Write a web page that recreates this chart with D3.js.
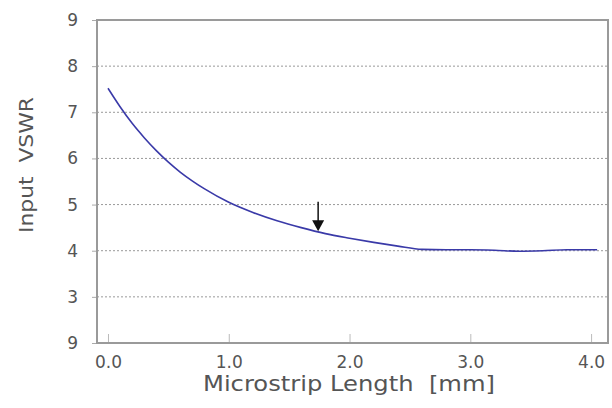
<!DOCTYPE html>
<html>
<head>
<meta charset="UTF-8">
<title>Input VSWR vs Microstrip Length</title>
<style>
    body { margin: 0; background: #fff; }
    text { font-family: "DejaVu Sans", sans-serif; }
    .tick text { fill: #555; font-size: 17px; font-family: "DejaVu Sans", sans-serif; }
    .grid line { stroke: #999; stroke-width: 1px; stroke-dasharray: 2,2; }
</style>
</head>
<body>
<svg id="chart" width="612" height="408"></svg>
<script src="https://cdn.jsdelivr.net/npm/d3@7/dist/d3.min.js"></script>
<script>
    // curve
    var lengths = [0.0, 0.1, 0.2, 0.3, 0.4, 0.5, 0.6, 0.7, 0.8, 1.0, 1.2, 1.4, 1.6, 1.8,
                   2.0, 2.2, 2.4, 2.6, 2.8, 3.0, 3.2, 3.4, 3.6, 3.8, 4.05];
    var vswr = [7.52, 7.12, 6.76, 6.45, 6.17, 5.92, 5.70, 5.51, 5.34, 5.05, 4.83, 4.65, 4.50, 4.37,
                4.27, 4.18, 4.10, 4.03, 4.02, 4.02, 4.01, 3.99, 4.00, 4.02, 4.02];

    var xTicks = [0, 1, 2, 3, 4];
    var yTicks = [2, 3, 4, 5, 6, 7, 8, 9];
    var yTickLabels = ["9", "3", "4", "5", "6", "7", "8", "9"]; // bottom label prints as "9" in the original
    var arrowAt = 1.74, arrowFrom = 5.06, arrowTo = 4.42;

    var plotLeft = 97, plotRight = 608, plotTop = 20, plotBottom = 343;

    var svg = d3.select("#chart");

    var x = d3.scaleLinear().domain([-0.091, 4.14]).range([plotLeft, plotRight]);
    var y = d3.scaleLinear().domain([2, 9]).range([plotBottom, plotTop]);

    // dotted grid
    svg.append("g")
        .attr("class", "grid")
        .selectAll("line")
        .data(yTicks.filter(function (d) { return d > 2 && d < 9; }))
        .enter().append("line")
        .attr("x1", plotLeft).attr("x2", plotRight)
        .attr("y1", function (d) { return y(d); })
        .attr("y2", function (d) { return y(d); });

    // y axis
    var yAxis = svg.append("g")
        .attr("transform", "translate(" + plotLeft + ",0)")
        .call(d3.axisLeft(y).tickValues(yTicks).tickSize(5).tickPadding(14)
            .tickFormat(function (d, i) { return yTickLabels[i]; }));
    yAxis.select(".domain").remove();
    yAxis.selectAll(".tick line").attr("stroke", "#aaa");

    // x axis, ticks pointing inward
    var xAxis = svg.append("g")
        .attr("transform", "translate(0," + plotBottom + ")")
        .call(d3.axisBottom(x).tickValues(xTicks).tickSizeInner(-9).tickSizeOuter(0).tickPadding(13)
            .tickFormat(d3.format(".1f")));
    xAxis.select(".domain").remove();
    xAxis.selectAll(".tick line").attr("stroke", "#bbb");

    // frame
    svg.append("rect")
        .attr("x", plotLeft).attr("y", plotTop)
        .attr("width", plotRight - plotLeft).attr("height", plotBottom - plotTop)
        .attr("fill", "none").attr("stroke", "#9a9a9a").attr("stroke-width", 2);

    // curve
    var pts = lengths.map(function (d, i) { return [d, vswr[i]]; });
    var line = d3.line()
        .x(function (d) { return x(d[0]); })
        .y(function (d) { return y(d[1]); })
        .curve(d3.curveMonotoneX);

    svg.append("path")
        .datum(pts)
        .attr("d", line)
        .attr("fill", "none")
        .attr("stroke", "#3a3aa8")
        .attr("stroke-width", 1.6);

    // arrow
    var ax = x(arrowAt);
    svg.append("line")
        .attr("x1", ax).attr("x2", ax)
        .attr("y1", y(arrowFrom)).attr("y2", y(arrowTo) - 8)
        .attr("stroke", "#111").attr("stroke-width", 1.5);
    svg.append("path")
        .attr("d", "M" + (ax - 6) + "," + (y(arrowTo) - 11) + " L" + (ax + 6) + "," + (y(arrowTo) - 11) +
            " L" + ax + "," + y(arrowTo) + " Z")
        .attr("fill", "#111");

    // axis titles
    svg.append("text")
        .attr("transform", "translate(33,165) rotate(-90)")
        .attr("text-anchor", "middle")
        .attr("fill", "#555")
        .attr("textLength", 136)
        .attr("lengthAdjust", "spacingAndGlyphs")
        .style("font-size", "19px")
        .style("white-space", "pre")
        .text("Input  VSWR");

    svg.append("text")
        .attr("x", 349).attr("y", 391)
        .attr("text-anchor", "middle")
        .attr("fill", "#555")
        .attr("textLength", 292)
        .attr("lengthAdjust", "spacingAndGlyphs")
        .style("font-size", "21px")
        .style("white-space", "pre")
        .text("Microstrip Length  [mm]");
</script>
</body>
</html>
